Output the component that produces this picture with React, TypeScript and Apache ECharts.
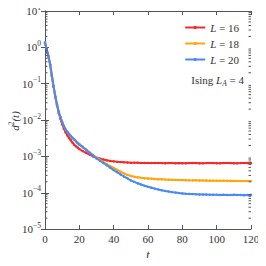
import React, { useEffect, useRef } from "react";
import * as echarts from "echarts";

const tValues: number[] = [
  0, 1, 2, 3, 4, 5, 6, 7, 8, 9, 10, 11, 12, 13, 14, 15, 16, 17, 18, 19, 20,
  22, 24, 26, 28, 30, 32, 34, 36, 38, 40, 42, 44, 46, 48, 50, 52, 54, 56, 58, 60,
  62, 64, 66, 68, 70, 72, 74, 76, 78, 80, 82, 84, 86, 88, 90, 92, 94, 96, 98, 100,
  102, 104, 106, 108, 110, 112, 114, 116, 118, 120,
];

const seriesL16: number[] = [
  1.3, 0.87, 0.56, 0.33, 0.16, 0.082, 0.043, 0.025, 0.0155, 0.0108, 0.0077, 0.0058, 0.0046, 0.0038, 0.0032, 0.0028, 0.0024, 0.0021, 0.0019, 0.00175, 0.0016,
  0.0014, 0.00125, 0.00112, 0.001, 0.00093, 0.00087, 0.00082, 0.00078, 0.00075, 0.00073, 0.00071, 0.0007, 0.00069, 0.00068, 0.00067, 0.000668, 0.000665, 0.00066, 0.000662, 0.00066,
  0.000655, 0.000658, 0.00066, 0.000655, 0.00065, 0.000655, 0.000658, 0.00065, 0.000655, 0.000652, 0.00065, 0.000655, 0.00066, 0.000655, 0.00065, 0.000652, 0.000655, 0.00066, 0.000655, 0.00065,
  0.000652, 0.000655, 0.000658, 0.000655, 0.00065, 0.000652, 0.000655, 0.00066, 0.000655, 0.000652,
];

const seriesL18: number[] = [
  1.32, 0.88, 0.57, 0.34, 0.17, 0.085, 0.045, 0.027, 0.017, 0.0121, 0.0089, 0.0069, 0.0055, 0.0048, 0.0042, 0.0037, 0.0033, 0.003, 0.0027, 0.0024, 0.0022,
  0.00185, 0.00155, 0.0013, 0.0011, 0.00093, 0.0008, 0.0007, 0.00061, 0.00054, 0.00048, 0.00043, 0.00038, 0.00034, 0.00031, 0.00029, 0.000275, 0.000265, 0.000258, 0.000252, 0.000248,
  0.000244, 0.00024, 0.000237, 0.000234, 0.000231, 0.000229, 0.000227, 0.000225, 0.000224, 0.000223, 0.000222, 0.00022, 0.000219, 0.000219, 0.000218, 0.000217, 0.000216, 0.000215, 0.000215, 0.000214,
  0.000214, 0.000213, 0.000213, 0.000212, 0.000212, 0.000211, 0.000211, 0.00021, 0.00021, 0.00021,
];

const seriesL20: number[] = [
  1.38, 0.89, 0.58, 0.34, 0.17, 0.085, 0.045, 0.027, 0.017, 0.012, 0.0088, 0.0068, 0.0054, 0.0047, 0.0041, 0.0036, 0.0032, 0.0029, 0.0026, 0.0023, 0.0021,
  0.0018, 0.0015, 0.00125, 0.00105, 0.00088, 0.00076, 0.00066, 0.00057, 0.00049, 0.00042, 0.00037, 0.00032, 0.00028, 0.00025, 0.00022, 0.0002, 0.000182, 0.000168, 0.000156, 0.000146,
  0.000138, 0.00013, 0.000123, 0.000117, 0.000112, 0.000108, 0.000104, 0.000101, 0.000098, 0.000096, 0.000094, 0.000093, 0.000092, 0.000091, 0.00009, 0.000089, 0.000089, 0.000088, 0.000088, 0.000088,
  0.000087, 0.000088, 0.000087, 0.000087, 0.000088, 0.000087, 0.000087, 0.000086, 0.000087, 0.000087,
];

const seriesNames: string[] = ["L = 16", "L = 18", "L = 20"];
const seriesColors: string[] = ["#f22b2b", "#ffa60f", "#4a8af4"];
const xTicks: number[] = [0, 20, 40, 60, 80, 100, 120];
const yDecades: number[] = [-5, -4, -3, -2, -1, 0, 1];

const FONT = "Liberation Serif";
const TEXT = "#333";
const AXIS = "#555";

export default function App() {
  const ref = useRef<HTMLDivElement>(null);
  useEffect(() => {
    if (!ref.current) return;
    const chart = echarts.init(ref.current, null, { renderer: "svg" });
    const allSeries = [seriesL16, seriesL18, seriesL20];
    const minorTicks: number[][] = [];
    for (let k = yDecades[0]; k < yDecades[yDecades.length - 1]; k++) {
      for (let m = 2; m <= 9; m++) minorTicks.push([0, m * Math.pow(10, k)]);
    }
    const supFmt = (v: number) => {
      const e = Math.round(Math.log10(v));
      return "10{sup|" + (e < 0 ? "\u2212" + Math.abs(e) : String(e)) + "}";
    };
    const axisCommon = {
      axisLine: { show: true, lineStyle: { color: AXIS, width: 1 } },
      axisTick: { show: true, inside: true, length: 4, lineStyle: { color: AXIS } },
      splitLine: { show: false },
    };
    chart.setOption({
      animation: false,
      backgroundColor: "#fff",
      textStyle: { fontFamily: FONT },
      grid: { left: 45, right: 15, top: 11, bottom: 33 },
      legend: {
        show: true,
        data: seriesNames,
        orient: "vertical",
        right: 22,
        top: 17,
        itemWidth: 20,
        itemHeight: 4,
        itemGap: 5,
        textStyle: {
          fontFamily: FONT,
          fontSize: 11,
          color: TEXT,
          rich: { i: { fontStyle: "italic", fontFamily: FONT, fontSize: 11, color: TEXT } },
        },
        formatter: (name: string) => name.replace("L", "{i|L}"),
      },
      xAxis: [
        {
          type: "value",
          min: xTicks[0],
          max: xTicks[xTicks.length - 1],
          interval: 20,
          position: "bottom",
          ...axisCommon,
          axisLabel: { color: TEXT, fontFamily: FONT, fontSize: 11, margin: 4 },
          name: "t",
          nameLocation: "middle",
          nameGap: 15,
          nameTextStyle: { fontStyle: "italic", fontFamily: FONT, fontSize: 12, color: TEXT },
        },
        {
          type: "value",
          min: xTicks[0],
          max: xTicks[xTicks.length - 1],
          interval: 20,
          position: "top",
          ...axisCommon,
          axisLabel: { show: false },
        },
      ],
      yAxis: [
        {
          type: "log",
          logBase: 10,
          min: Math.pow(10, yDecades[0]),
          max: Math.pow(10, yDecades[yDecades.length - 1]),
          position: "left",
          ...axisCommon,
          axisLabel: {
            color: TEXT,
            fontFamily: FONT,
            fontSize: 11,
            margin: 4,
            formatter: supFmt,
            rich: { sup: { fontSize: 7.5, fontFamily: FONT, color: TEXT, padding: [0, 0, 8, 0] } },
          },
        },
        {
          type: "log",
          logBase: 10,
          min: Math.pow(10, yDecades[0]),
          max: Math.pow(10, yDecades[yDecades.length - 1]),
          position: "right",
          ...axisCommon,
          axisLabel: { show: false },
        },
      ],
      series: [
        ...allSeries.map((vals, i) => ({
          type: "line",
          name: seriesNames[i],
          data: tValues.map((t, j) => [t, vals[j]]),
          xAxisIndex: 0,
          yAxisIndex: 0,
          symbol: "circle",
          symbolSize: 2.5,
          showSymbol: true,
          itemStyle: { color: seriesColors[i] },
          lineStyle: { color: seriesColors[i], width: 2 },
          z: 2 + i,
        })),
        {
          type: "custom",
          name: "minor",
          xAxisIndex: 0,
          yAxisIndex: 0,
          data: minorTicks,
          silent: true,
          clip: false,
          renderItem: (params: any, api: any) => {
            const cs = params.coordSys;
            const p = api.coord([0, api.value(1)]);
            const style = { stroke: AXIS, lineWidth: 1 };
            return {
              type: "group",
              children: [
                { type: "line", shape: { x1: cs.x, y1: p[1], x2: cs.x + 2.5, y2: p[1] }, style },
                { type: "line", shape: { x1: cs.x + cs.width - 2.5, y1: p[1], x2: cs.x + cs.width, y2: p[1] }, style },
              ],
            };
          },
          z: 10,
        },
      ],
      graphic: {
        elements: [
          {
            type: "text",
            x: 14.5,
            y: 121,
            rotation: Math.PI / 2,
            style: {
              text: "{i|d}{s|2}{i|(t)}",
              fill: TEXT,
              fontFamily: FONT,
              fontSize: 11,
              align: "center",
              verticalAlign: "middle",
              rich: {
                i: { fontStyle: "italic", fontFamily: FONT, fontSize: 11, fill: TEXT },
                s: { fontFamily: FONT, fontSize: 7.5, fill: TEXT, padding: [0, 0, 7, 0] },
              },
            },
          },
          {
            type: "polyline",
            shape: { points: [[6.5, 107], [6.5, 134]] },
            style: { stroke: TEXT, lineWidth: 1, fill: "none" },
          },
          {
            type: "text",
            x: 244,
            y: 80,
            style: {
              text: "Ising {i|L}{sub|A} = 4",
              fill: TEXT,
              fontFamily: FONT,
              fontSize: 11,
              align: "right",
              verticalAlign: "middle",
              rich: {
                i: { fontStyle: "italic", fontFamily: FONT, fontSize: 11, fill: TEXT },
                sub: { fontStyle: "italic", fontFamily: FONT, fontSize: 7.5, fill: TEXT, padding: [6, 0, 0, 0] },
              },
            },
          },
        ],
      },
    });
    return () => chart.dispose();
  }, []);
  return <div ref={ref} style={{ width: 266, height: 266, margin: -8 }} />;
}
